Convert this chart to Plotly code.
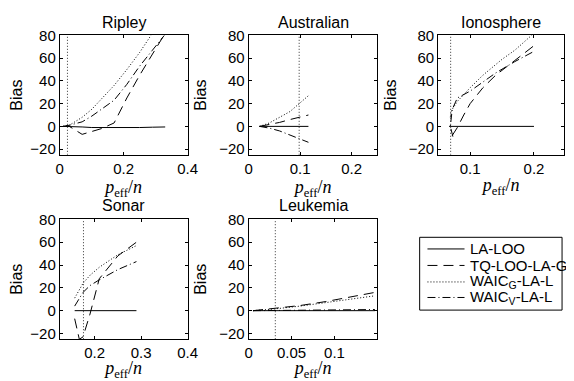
import plotly.graph_objects as go

# ---------------- data ----------------
methods = ["LA-LOO", "TQ-LOO-LA-G", "WAIC<sub>G</sub>-LA-L", "WAIC<sub>V</sub>-LA-L"]
titles = ["Ripley", "Australian", "Ionosphere", "Sonar", "Leukemia"]
y_ticks = [-20, 0, 20, 40, 60, 80]

ripley_x = [0.01, 0.03, 0.07, 0.10, 0.13, 0.17, 0.21, 0.25, 0.29, 0.33]
ripley_la_loo = [0, 0, -0.5, -1, -1, -1.5, -1.2, -1, -0.7, -0.5]
ripley_tq = [0, 0, -7, -4.5, -2, 3, 25, 45, 64, 82]
ripley_waic_g = [0, 1, 8, 15, 24, 36, 50, 65, 82, 100]
ripley_waic_v = [0, 1, 4, 9, 15, 23, 37, 53, 67, 81]

austr_x = [0.021, 0.04, 0.06, 0.08, 0.098, 0.116]
austr_la_loo = [0, 0, 0, 0, 0, 0]
austr_tq = [0, 1.5, 3.5, 6, 8, 10]
austr_waic_g = [0, 3, 8, 13, 20, 27]
austr_waic_v = [0, -1.5, -4, -7.5, -11, -14]

iono_x = [0.067, 0.08, 0.1, 0.12, 0.14, 0.17, 0.2]
iono_la_loo = [0, 0, 0, 0, 0, 0, 0]
iono_tq_x = [0.072, 0.08, 0.09, 0.1, 0.12, 0.14, 0.17, 0.2]
iono_tq = [-8, -1, 10, 20, 34, 45, 58, 71]
iono_waic_g_x = [0.069, 0.07, 0.072, 0.08, 0.1, 0.12, 0.15, 0.17, 0.2]
iono_waic_g = [8, 12, 15, 22, 34, 45, 59, 67, 82]
iono_waic_v_x = [0.073, 0.069, 0.072, 0.08, 0.1, 0.12, 0.14, 0.17, 0.2]
iono_waic_v = [-9, 0, 15, 25, 31, 39, 47, 57, 66]

sonar_x = [0.157, 0.167, 0.175, 0.19, 0.21, 0.25, 0.29]
sonar_la_loo = [0, 0, 0, 0, 0, 0, 0]
sonar_tq = [-7, -25, -23, -3, 28, 48, 60]
sonar_waic_g = [11, 18, 24, 31, 38, 49, 57]
sonar_waic_v = [4, 11, 16, 22, 27, 36, 43]

leuk_x = [0.005, 0.03, 0.06, 0.09, 0.12, 0.147]
leuk_la_loo = [0, 0, 0, 0, 0, 0]
leuk_tq = [0, 2, 4.5, 8, 12, 16]
leuk_waic_g = [0, 1.5, 4, 7, 10, 13]
leuk_waic_v = [0, 0.2, 0.4, 0.6, 0.8, 1]

vline_x = [0.024, 0.098, 0.0695, 0.176, 0.031]

x_ranges = [[0, 0.4], [0, 0.25], [0.05, 0.247], [0.125, 0.4], [0, 0.15]]
x_tickvals = [[0, 0.2, 0.4], [0, 0.1, 0.2], [0.1, 0.2], [0.2, 0.3, 0.4], [0, 0.05, 0.1]]
x_ticktext = [["0", "0.2", "0.4"], ["0", "0.1", "0.2"], ["0.1", "0.2"],
              ["0.2", "0.3", "0.4"], ["0", "0.05", "0.1"]]

panels = [
    [(ripley_x, ripley_la_loo), (ripley_x, ripley_tq), (ripley_x, ripley_waic_g), (ripley_x, ripley_waic_v)],
    [(austr_x, austr_la_loo), (austr_x, austr_tq), (austr_x, austr_waic_g), (austr_x, austr_waic_v)],
    [(iono_x, iono_la_loo), (iono_tq_x, iono_tq), (iono_waic_g_x, iono_waic_g), (iono_waic_v_x, iono_waic_v)],
    [(sonar_x, sonar_la_loo), (sonar_x, sonar_tq), (sonar_x, sonar_waic_g), (sonar_x, sonar_waic_v)],
    [(leuk_x, leuk_la_loo), (leuk_x, leuk_tq), (leuk_x, leuk_waic_g), (leuk_x, leuk_waic_v)],
]

# ---------------- layout ----------------
OFF = 8  # default page body margin
W, H = 574 - OFF, 381 - OFF


def px2x(p):
    return (p - OFF) / W


def px2y(p):
    return 1 - (p - OFF) / H


dashes = ["solid", "10px,6px", "1px,2px", "8px,3px,1px,3px"]
px_x = [(57, 188), (250.7, 382.7), (445, 574), (57, 188), (250.7, 382.7)]
px_y = [(27, 150), (27, 150), (27, 150), (216.5, 340), (216.5, 340)]

FONT = "Liberation Sans, Arial, sans-serif"
fig = go.Figure()

for i, (title, series) in enumerate(zip(titles, panels)):
    n = "" if i == 0 else str(i + 1)
    xa, ya = "x" + n, "y" + n
    for j, (xs, ys) in enumerate(series):
        fig.add_trace(go.Scatter(
            x=xs, y=ys, mode="lines", xaxis=xa, yaxis=ya,
            name=methods[j], showlegend=False,
            line=dict(color="black", width=1, dash=dashes[j]),
        ))
    fig.add_trace(go.Scatter(
        x=[vline_x[i], vline_x[i]], y=[-25, 80], mode="lines", xaxis=xa, yaxis=ya,
        showlegend=False, line=dict(color="#333333", width=1, dash="1px,2px"),
    ))
    x0, x1 = px_x[i]
    y0, y1 = px_y[i]
    axis_common = dict(showline=True, linecolor="black", linewidth=1, mirror="ticks",
                       ticks="inside", ticklen=3, tickcolor="black", showgrid=False,
                       zeroline=False, tickfont=dict(family=FONT, size=15, color="black"))
    fig.layout["xaxis" + n] = dict(
        domain=[px2x(x0), px2x(x1)], range=x_ranges[i], anchor=ya,
        tickvals=x_tickvals[i], ticktext=x_ticktext[i],
        title=dict(text="<i>p</i><sub>eff</sub>/<i>n</i>",
                   font=dict(family="Liberation Serif, serif", size=18, color="black"),
                   standoff=2),
        **axis_common)
    fig.layout["yaxis" + n] = dict(
        domain=[px2y(y1), px2y(y0)], range=[-25, 80], anchor=xa,
        tickvals=y_ticks,
        title=dict(text="Bias", font=dict(family=FONT, size=16, color="black"), standoff=8),
        **axis_common)
    fig.add_annotation(text=title, x=px2x((x0 + x1) / 2), y=px2y(y0 - 3),
                       xref="paper", yref="paper", xanchor="center", yanchor="bottom",
                       showarrow=False, font=dict(family=FONT, size=16, color="black"))

# manual legend (MATLAB style)
leg_box = (426, 235, 572, 310)
leg_rows = [247, 264, 281, 297]
leg_line = (434, 472)
leg_text_x = 476
fig.add_shape(type="rect", xref="paper", yref="paper",
              x0=px2x(leg_box[0]), x1=px2x(leg_box[2]),
              y0=px2y(leg_box[3]), y1=px2y(leg_box[1]),
              line=dict(color="black", width=1), fillcolor="white")
for j, name in enumerate(methods):
    fig.add_shape(type="line", xref="paper", yref="paper",
                  x0=px2x(leg_line[0]), x1=px2x(leg_line[1]),
                  y0=px2y(leg_rows[j]), y1=px2y(leg_rows[j]),
                  line=dict(color="black", width=1, dash=dashes[j]))
    fig.add_annotation(text=name, x=px2x(leg_text_x), y=px2y(leg_rows[j]),
                       xref="paper", yref="paper", xanchor="left", yanchor="middle",
                       showarrow=False, font=dict(family=FONT, size=15, color="black"))

fig.update_layout(
    width=W, height=H, margin=dict(l=0, r=0, t=0, b=0),
    paper_bgcolor="white", plot_bgcolor="white", showlegend=False,
)

fig.write_html("out.html")
